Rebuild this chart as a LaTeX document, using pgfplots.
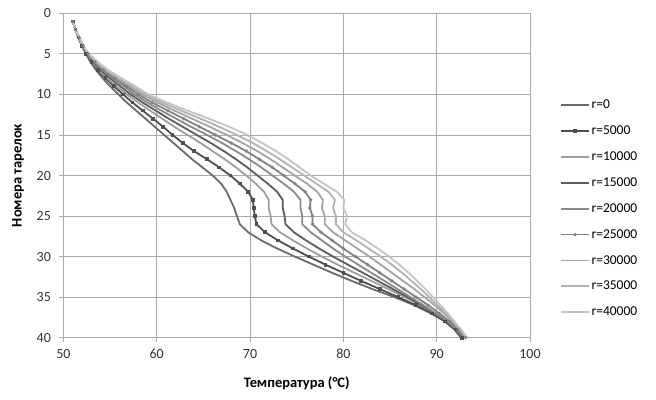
\documentclass[border=0pt]{standalone}
\usepackage{fontspec}
\setmainfont{Carlito}
\usepackage{pgfplots}
\usepackage{pgfplotstable}
\pgfplotsset{compat=1.18}
\definecolor{c0}{HTML}{6B6B6B}
\definecolor{c5}{HTML}{4F4F4F}
\definecolor{c10}{HTML}{9E9E9E}
\definecolor{c15}{HTML}{5C5C5C}
\definecolor{c20}{HTML}{8A8A8A}
\definecolor{c25}{HTML}{828282}
\definecolor{c30}{HTML}{A4A4A4}
\definecolor{c35}{HTML}{B2B2B2}
\definecolor{c40}{HTML}{C4C4C4}
\definecolor{gridc}{HTML}{ABABAB}
\pgfplotstableread{
plate r0 r5 r10 r15 r20 r25 r30 r35 r40
1 51.0 51.0 51.0 51.0 51.0 51.0 51.0 51.0 51.0
2 51.3 51.3 51.3 51.3 51.3 51.3 51.3 51.3 51.3
3 51.6 51.6 51.65 51.65 51.7 51.7 51.7 51.7 51.7
4 52.0 52.0 52.05 52.05 52.1 52.1 52.1 52.1 52.1
5 52.4 52.45 52.5 52.55 52.6 52.65 52.7 52.7 52.75
6 52.9 53.0 53.1 53.2 53.3 53.4 53.5 53.6 53.7
7 53.5 53.7 53.8 54.0 54.2 54.3 54.5 54.65 54.8
8 54.2 54.5 54.7 55.0 55.3 55.5 55.75 56.0 56.2
9 55.0 55.4 55.7 56.1 56.5 56.8 57.1 57.4 57.7
10 55.9 56.4 56.8 57.2 57.6 58.0 58.4 58.8 59.1
11 56.8 57.4 58.0 58.5 59.0 59.5 60.1 60.6 61.1
12 57.8 58.5 59.3 59.9 60.5 61.2 61.9 62.6 63.3
13 58.8 59.6 60.6 61.3 62.1 62.9 63.8 64.7 65.6
14 59.8 60.7 61.9 62.8 63.7 64.6 65.7 66.7 67.8
15 60.8 61.7 63.3 64.3 65.4 66.3 67.5 68.6 69.7
16 61.8 62.8 64.7 65.8 67.0 68.0 69.2 70.3 71.3
17 62.8 64.0 66.0 67.2 68.5 69.6 70.8 71.8 72.8
18 63.8 65.4 67.3 68.5 69.9 71.0 72.2 73.2 74.1
19 64.9 66.7 68.5 69.7 71.2 72.4 73.5 74.5 75.3
20 66.0 67.9 69.6 70.8 72.4 73.6 74.8 75.8 76.5
21 66.9 68.9 70.6 71.9 73.6 74.8 76.1 77.1 77.9
22 67.5 69.8 71.5 72.9 74.7 75.9 77.2 78.4 79.3
23 67.9 70.3 72.0 73.5 75.4 76.5 77.8 79.1 80.1
24 68.3 70.4 72.0 73.5 75.4 76.4 77.7 78.9 80.0
25 68.6 70.5 72.2 73.7 75.6 76.7 78.0 79.2 80.4
26 68.9 70.7 72.3 73.8 75.6 76.7 78.0 79.2 80.2
27 69.8 71.6 73.2 74.7 76.5 77.6 78.9 80.0 80.9
28 71.2 73.0 74.6 76.0 77.7 78.8 80.2 81.4 82.4
29 72.9 74.6 76.1 77.4 78.9 80.0 81.5 82.7 83.7
30 74.8 76.3 77.7 78.9 80.2 81.3 82.8 84.0 84.9
31 76.8 78.1 79.4 80.5 81.6 82.6 84.0 85.2 86.0
32 78.8 80.0 81.2 82.1 83.0 83.9 85.2 86.3 87.0
33 80.9 81.9 83.0 83.7 84.4 85.2 86.4 87.3 87.9
34 83.1 83.9 84.8 85.3 85.8 86.5 87.6 88.3 88.8
35 85.5 85.9 86.6 86.9 87.2 87.8 88.7 89.2 89.6
36 87.6 87.8 88.3 88.4 88.6 89.1 89.8 90.1 90.4
37 89.4 89.5 89.8 89.8 89.9 90.3 90.8 91.0 91.2
38 90.9 90.9 91.1 91.1 91.2 91.4 91.7 91.8 91.9
39 91.9 92.0 92.1 92.1 92.2 92.3 92.5 92.6 92.6
40 92.6 92.7 92.8 92.9 93.0 93.1 93.2 93.2 93.3
}\data
\begin{document}
\begin{tikzpicture}
\path[use as bounding box] (0,0) rectangle (656pt,399pt);
\begin{axis}[
  at={(63.4pt,61.3pt)}, anchor=south west,
  width=466.6pt, height=324.4pt, scale only axis,
  xmin=50, xmax=100, ymin=0, ymax=40, y dir=reverse,
  xtick={50,60,...,100}, ytick={0,5,...,40},
  grid=major, major grid style={draw=gridc, line width=0.8pt},
  axis line style={draw=gridc, line width=0.8pt},
  tick style={draw=gridc, line width=0.8pt},
  tick align=outside, major tick length=4pt,
  xtick pos=bottom, ytick pos=left,
  /pgf/number format/assume math mode=true,
  ticklabel style={font=\fontsize{14}{16}\selectfont, text=black!80},
  xticklabel style={yshift=-4pt},
  yticklabel style={xshift=-5pt},
  xlabel={\bfseries Температура (°C)},
  ylabel={\bfseries Номера тарелок},
  label style={font=\fontsize{14.5}{16}\selectfont, text=black},
  xlabel style={at={(axis description cs:0.5,-0.1397)}, anchor=center},
  ylabel style={at={(axis description cs:-0.0973,0.5)}, anchor=center},
  legend cell align=left,
  legend style={at={(1.0645,0.736)}, anchor=north west, draw=none, fill=none,
    font=\fontsize{13.5}{15}\selectfont, row sep=13.6pt, inner sep=0pt,
    nodes={inner xsep=1.5pt, inner ysep=1pt}},
  legend image code/.code={\draw[mark repeat=2,mark phase=2,#1] plot coordinates {(0pt,0pt) (14pt,0pt) (28pt,0pt)};},
  every axis plot/.append style={line width=1.8pt},
]
\addplot[color=c0] table[x=r0,y=plate]{\data};
\addlegendentry{r=0}
\addplot[color=c5, mark=square*, mark size=0.9pt, mark options={solid}] table[x=r5,y=plate]{\data};
\addlegendentry{r=5000}
\addplot[color=c10] table[x=r10,y=plate]{\data};
\addlegendentry{r=10000}
\addplot[color=c15] table[x=r15,y=plate]{\data};
\addlegendentry{r=15000}
\addplot[color=c20] table[x=r20,y=plate]{\data};
\addlegendentry{r=20000}
\addplot[color=c25, mark=*, mark size=0.6pt] table[x=r25,y=plate]{\data};
\addlegendentry{r=25000}
\addplot[color=c30] table[x=r30,y=plate]{\data};
\addlegendentry{r=30000}
\addplot[color=c35] table[x=r35,y=plate]{\data};
\addlegendentry{r=35000}
\addplot[color=c40] table[x=r40,y=plate]{\data};
\addlegendentry{r=40000}
\end{axis}
\end{tikzpicture}
\end{document}
